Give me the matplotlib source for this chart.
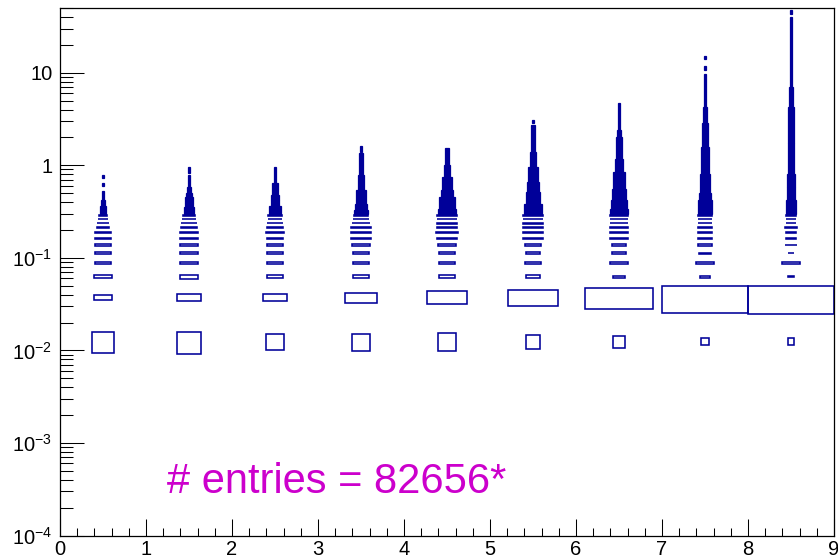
import matplotlib
matplotlib.use("Agg")
import matplotlib.pyplot as plt
from matplotlib.patches import Rectangle
from matplotlib.ticker import FixedLocator, FixedFormatter, NullFormatter

plt.rcParams['font.family'] = ['Liberation Sans', 'DejaVu Sans']
plt.rcParams['mathtext.fontset'] = 'custom'
plt.rcParams['mathtext.rm'] = 'Liberation Sans'
plt.rcParams['mathtext.it'] = 'Liberation Sans:italic'
plt.rcParams['mathtext.bf'] = 'Liberation Sans:bold'

# x bins are 1 wide (0..9), y bins are 0.025 wide starting at 0
x_edges = [0, 1, 2, 3, 4, 5, 6, 7, 8, 9]
y_bin = 0.025

# relative box size (content / max content) for the first 12 y bins of each x bin
box_x1 = [0.25, 0.20, 0.20, 0.19, 0.19, 0.19, 0.18, 0.18, 0.13, 0.13, 0.11, 0.10]
box_x2 = [0.27, 0.29, 0.22, 0.22, 0.22, 0.22, 0.22, 0.22, 0.19, 0.175, 0.16, 0.145]
box_x3 = [0.20, 0.275, 0.18, 0.19, 0.18, 0.19, 0.19, 0.21, 0.18, 0.19, 0.155, 0.155]
box_x4 = [0.21, 0.37, 0.18, 0.19, 0.18, 0.22, 0.23, 0.23, 0.23, 0.20, 0.19, 0.17]
box_x5 = [0.22, 0.47, 0.18, 0.19, 0.19, 0.22, 0.23, 0.26, 0.23, 0.23, 0.23, 0.23]
box_x6 = [0.17, 0.57, 0.155, 0.19, 0.155, 0.19, 0.23, 0.23, 0.23, 0.23, 0.23, 0.23]
box_x7 = [0.15, 0.78, 0.15, 0.20, 0.16, 0.16, 0.20, 0.20, 0.20, 0.20, 0.20, 0.20]
box_x8 = [0.09, 0.99, 0.12, 0.22, 0.13, 0.16, 0.17, 0.17, 0.17, 0.17, 0.17, 0.17]
box_x9 = [0.08, 1.00, 0.08, 0.21, 0.08, 0.13, 0.11, 0.11, 0.13, 0.11, 0.11, 0.11]

# above y=0.3 the bins are thinner than a pixel: runs of bins with the same size
tail_lo_x1 = [0.30, 0.36, 0.42, 0.60, 0.72]
tail_hi_x1 = [0.36, 0.42, 0.53, 0.65, 0.78]
tail_sz_x1 = [0.08, 0.055, 0.03, 0.025, 0.025]

tail_lo_x2 = [0.30, 0.356, 0.39, 0.456, 0.496, 0.585, 0.83]
tail_hi_x2 = [0.356, 0.39, 0.456, 0.496, 0.585, 0.78, 0.96]
tail_sz_x2 = [0.12, 0.10, 0.085, 0.07, 0.05, 0.03, 0.025]

tail_lo_x3 = [0.30, 0.36, 0.42, 0.475, 0.645]
tail_hi_x3 = [0.36, 0.42, 0.475, 0.645, 0.96]
tail_sz_x3 = [0.13, 0.10, 0.085, 0.06, 0.03]

tail_lo_x4 = [0.30, 0.327, 0.386, 0.538, 0.78, 1.40]
tail_hi_x4 = [0.327, 0.386, 0.538, 0.78, 1.34, 1.60]
tail_sz_x4 = [0.155, 0.135, 0.11, 0.08, 0.04, 0.025]

tail_lo_x5 = [0.30, 0.34, 0.456, 0.538, 0.75, 1.0]
tail_hi_x5 = [0.34, 0.456, 0.538, 0.75, 1.0, 1.55]
tail_sz_x5 = [0.20, 0.175, 0.15, 0.11, 0.08, 0.04]

tail_lo_x6 = [0.30, 0.386, 0.516, 0.66, 0.96, 1.4, 2.85]
tail_hi_x6 = [0.386, 0.516, 0.66, 0.96, 1.4, 2.69, 3.05]
tail_sz_x6 = [0.20, 0.17, 0.14, 0.11, 0.08, 0.035, 0.03]

tail_lo_x7 = [0.30, 0.34, 0.42, 0.56, 0.85, 1.18, 2.03, 2.39]
tail_hi_x7 = [0.34, 0.42, 0.56, 0.85, 1.18, 2.03, 2.39, 4.65]
tail_sz_x7 = [0.20, 0.19, 0.16, 0.13, 0.10, 0.065, 0.04, 0.03]

tail_lo_x8 = [0.30, 0.42, 0.50, 0.81, 1.58, 2.83, 4.27, 10.8, 14.0]
tail_hi_x8 = [0.42, 0.50, 0.81, 1.58, 2.83, 4.27, 9.8, 11.8, 15.0]
tail_sz_x8 = [0.17, 0.13, 0.11, 0.09, 0.06, 0.04, 0.03, 0.03, 0.025]

tail_lo_x9 = [0.30, 0.42, 0.585, 0.81, 1.72, 4.27, 7.0, 43.0]
tail_hi_x9 = [0.42, 0.585, 0.81, 1.72, 4.27, 7.0, 40.0, 48.0]
tail_sz_x9 = [0.12, 0.10, 0.085, 0.075, 0.06, 0.045, 0.03, 0.03]

boxes = [box_x1, box_x2, box_x3, box_x4, box_x5, box_x6, box_x7, box_x8, box_x9]
tails = [(tail_lo_x1, tail_hi_x1, tail_sz_x1), (tail_lo_x2, tail_hi_x2, tail_sz_x2),
         (tail_lo_x3, tail_hi_x3, tail_sz_x3), (tail_lo_x4, tail_hi_x4, tail_sz_x4),
         (tail_lo_x5, tail_hi_x5, tail_sz_x5), (tail_lo_x6, tail_hi_x6, tail_sz_x6),
         (tail_lo_x7, tail_hi_x7, tail_sz_x7), (tail_lo_x8, tail_hi_x8, tail_sz_x8),
         (tail_lo_x9, tail_hi_x9, tail_sz_x9)]

y_ticks = [1e-4, 1e-3, 1e-2, 1e-1, 1, 10]
y_labels = ['$10^{-4}$', '$10^{-3}$', '$10^{-2}$', '$10^{-1}$', '1', '10']

box_color = '#000099'

fig = plt.figure(figsize=(8.38, 5.6), dpi=100)
ax = fig.add_axes([60 / 838, 1 - 535.5 / 560, 774 / 838, 527.5 / 560])
ax.set_yscale('log')
ax.set_xlim(0, 9)
ax.set_ylim(1e-4, 50)

for i in range(len(boxes)):
    xc = (x_edges[i] + x_edges[i] + 1) / 2
    for k, r in enumerate(boxes[i]):
        yc = (k + 0.5) * y_bin
        w = r
        h = r * y_bin
        ax.add_patch(Rectangle((xc - w / 2, yc - h / 2), w, h, fill=False,
                               edgecolor=box_color, lw=1.15))
    lo, hi, sz = tails[i]
    for a, b, r in zip(lo, hi, sz):
        ax.add_patch(Rectangle((xc - r / 2, a), r, b - a, facecolor=box_color,
                               edgecolor=box_color, lw=0.9))

ax.text(0.138, 0.080, '# entries = 82656*', transform=ax.transAxes,
        color='#cc00cc', fontsize=30, va='baseline', ha='left')

# ROOT-like axes: inward ticks on left and bottom only
ax.xaxis.set_major_locator(FixedLocator(x_edges))
ax.xaxis.set_minor_locator(FixedLocator([j * 0.2 for j in range(46) if j % 5]))
ax.yaxis.set_major_locator(FixedLocator(y_ticks))
ax.yaxis.set_major_formatter(FixedFormatter(y_labels))
minor_y = [m * 10.0 ** e for e in range(-4, 2) for m in range(2, 10)]
ax.yaxis.set_minor_locator(FixedLocator(minor_y))
ax.yaxis.set_minor_formatter(NullFormatter())

ax.tick_params(axis='both', which='both', direction='in', top=False, right=False,
               width=0.75, color='black', labelsize=14.5)
ax.tick_params(axis='y', which='major', length=17.5, pad=5.5)
ax.tick_params(axis='y', which='minor', length=9.5)
ax.tick_params(axis='x', which='major', length=12.5, pad=3)
ax.tick_params(axis='x', which='minor', length=6)
for s in ax.spines.values():
    s.set_linewidth(0.9)
    s.set_color('black')

fig.savefig('out.png', dpi=100)
